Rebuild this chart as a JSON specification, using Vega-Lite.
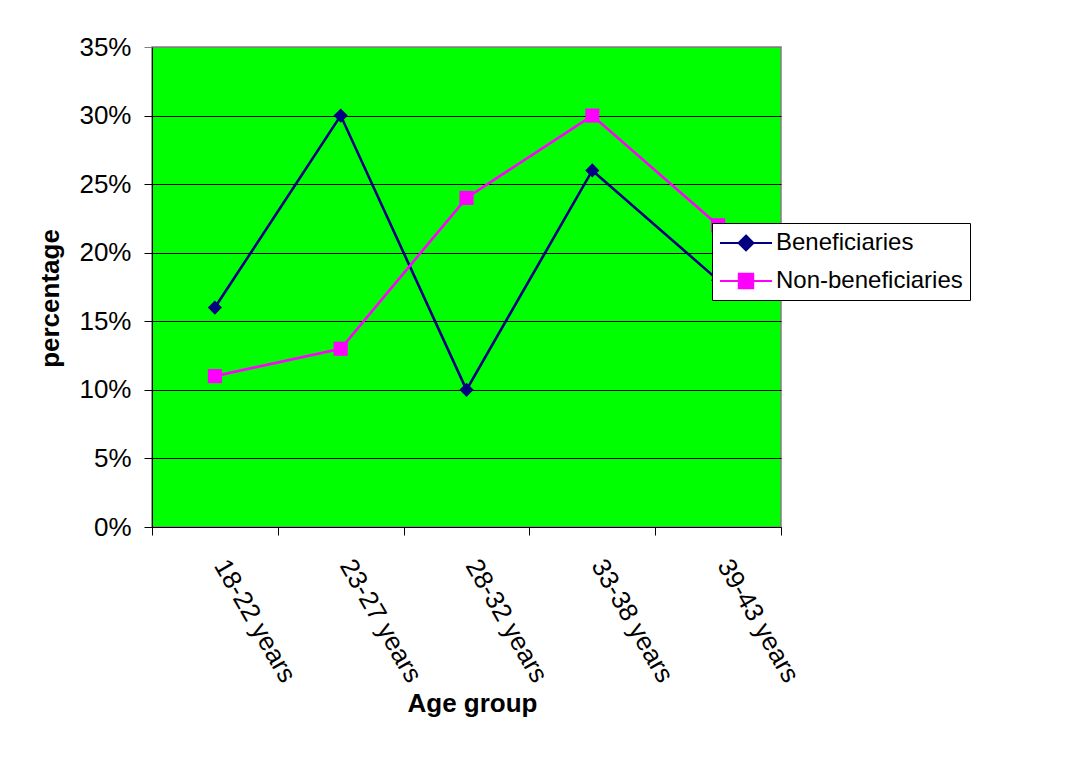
{
  "$schema": "https://vega.github.io/schema/vega-lite/v6.json",
  "autosize": {"type": "none"},
  "width": 629,
  "height": 480,
  "padding": {"left": 152, "top": 47, "right": 292, "bottom": 230},
  "background": "white",
  "config": {
    "font": "Liberation Sans",
    "view": {"fill": "#00FF00", "stroke": "#808080", "strokeWidth": 1.5}
  },
  "data": {
    "values": [
      {"age": "18-22 years", "group": "Beneficiaries", "pct": 0.16},
      {"age": "23-27 years", "group": "Beneficiaries", "pct": 0.30},
      {"age": "28-32 years", "group": "Beneficiaries", "pct": 0.10},
      {"age": "33-38 years", "group": "Beneficiaries", "pct": 0.26},
      {"age": "39-43 years", "group": "Beneficiaries", "pct": 0.18},
      {"age": "18-22 years", "group": "Non-beneficiaries", "pct": 0.11},
      {"age": "23-27 years", "group": "Non-beneficiaries", "pct": 0.13},
      {"age": "28-32 years", "group": "Non-beneficiaries", "pct": 0.24},
      {"age": "33-38 years", "group": "Non-beneficiaries", "pct": 0.30},
      {"age": "39-43 years", "group": "Non-beneficiaries", "pct": 0.22}
    ]
  },
  "encoding": {
    "x": {
      "field": "age",
      "type": "nominal",
      "bandPosition": 0.5,
      "scale": {"type": "band", "paddingInner": 0, "paddingOuter": 0},
      "axis": {
        "title": "Age group",
        "titleFont": "Liberation Sans",
        "titleFontSize": 26,
        "titleFontWeight": "bold",
        "titleColor": "black",
        "titleX": 320,
        "titleY": 184,
        "titleBaseline": "alphabetic",
        "titleAlign": "center",
        "tickBand": "extent",
        "tickColor": "black",
        "tickSize": 8,
        "domainColor": "black",
        "labelAngle": 60,
        "labelAlign": "left",
        "labelBaseline": "middle",
        "labelPadding": 26,
        "labelOffset": 5,
        "labelFontSize": 26,
        "labelColor": "black",
        "labelOverlap": false,
        "grid": false
      }
    },
    "y": {
      "field": "pct",
      "type": "quantitative",
      "scale": {"domain": [0, 0.35], "nice": false, "zero": true},
      "axis": {
        "title": "percentage",
        "titleFontSize": 26,
        "titleFontWeight": "bold",
        "titleColor": "black",
        "titleX": -94,
        "titleY": 251,
        "titleBaseline": "alphabetic",
        "titleAngle": 270,
        "values": [0, 0.05, 0.1, 0.15, 0.2, 0.25, 0.3, 0.35],
        "format": ".0%",
        "labelFontSize": 26,
        "labelColor": "black",
        "labelPadding": 13,
        "tickSize": 8,
        "tickColor": {"condition": {"test": "datum.value >= 0.35", "value": "#808080"}, "value": "black"},
        "domainColor": "black",
        "grid": true,
        "gridColor": {"condition": {"test": "datum.value >= 0.35", "value": "#808080"}, "value": "black"},
        "gridOpacity": 1,
        "gridWidth": 1
      }
    },
    "color": {
      "field": "group",
      "type": "nominal",
      "scale": {"domain": ["Beneficiaries", "Non-beneficiaries"], "range": ["#000080", "#FF00FF"]},
      "legend": {
        "title": null,
        "orient": "none",
        "legendX": 560,
        "legendY": 176,
        "fillColor": "white",
        "strokeColor": "black",
        "padding": 7,
        "labelFontSize": 24,
        "labelColor": "black",
        "labelLimit": 400,
        "labelOffset": 17,
        "symbolOffset": 14,
        "rowPadding": 13,
        "symbolSize": 576,
        "symbolStrokeWidth": 2,
        "symbolType": "M-2.17,0H2.17",
        "encode": {
          "symbols": {
            "update": {
              "shape": {"signal": "datum.value === 'Beneficiaries' ? 'M-2.17,0H2.17M0,-0.62L0.62,0L0,0.62L-0.62,0Z' : 'M-2.17,0H2.17M-0.6,-0.6H0.6V0.6H-0.6Z'"},
              "fill": {"signal": "datum.value === 'Beneficiaries' ? '#000080' : '#FF00FF'"},
              "stroke": {"signal": "datum.value === 'Beneficiaries' ? '#000080' : '#FF00FF'"},
              "strokeWidth": {"value": 2},
              "opacity": {"value": 1}
            }
          }
        }
      }
    }
  },
  "layer": [
    {
      "mark": {"type": "line", "strokeWidth": 2.6}
    },
    {
      "transform": [{"filter": "datum.group === 'Beneficiaries'"}],
      "mark": {"type": "point", "filled": true, "opacity": 1, "size": 200, "shape": "diamond"}
    },
    {
      "transform": [{"filter": "datum.group === 'Non-beneficiaries'"}],
      "mark": {"type": "point", "filled": true, "opacity": 1, "size": 200, "shape": "square"}
    }
  ]
}
